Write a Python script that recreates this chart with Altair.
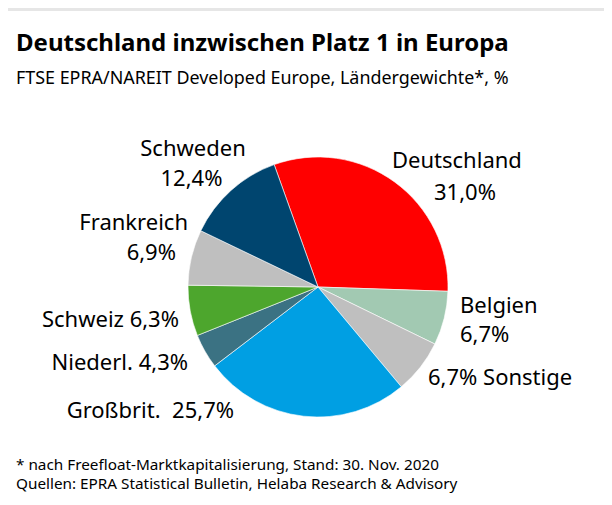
import altair as alt
import pandas as pd

# ---- data ----
categories = ["Deutschland", "Belgien", "Sonstige", "Großbrit.", "Niederl.", "Schweiz", "Frankreich", "Schweden"]
values = [31.0, 6.7, 6.7, 25.7, 4.3, 6.3, 6.9, 12.4]
colors = ["#FF0000", "#A2C9B2", "#BFBFBF", "#009FE3", "#3B7283", "#4DA62D", "#BFBFBF", "#00456F"]

title_text = "Deutschland inzwischen Platz 1 in Europa"
subtitle_text = "FTSE EPRA/NAREIT Developed Europe, Ländergewichte*, %"
footer_lines = ["* nach Freefloat-Marktkapitalisierung, Stand: 30. Nov. 2020",
                "Quellen: EPRA Statistical Bulletin, Helaba Research & Advisory"]


def pct(v):
    return f"{v:.1f}".replace(".", ",") + "%"


pie_df = pd.DataFrame({"cat": categories, "value": values, "idx": list(range(len(categories)))})

# ---- label lines (text from data, layout separate) ----
v = dict(zip(categories, values))
label_text = [
    "Deutschland", pct(v["Deutschland"]),
    "Belgien", pct(v["Belgien"]),
    pct(v["Sonstige"]) + " Sonstige",
    "Großbrit.\u00a0 " + pct(v["Großbrit."]),
    "Niederl. " + pct(v["Niederl."]),
    "Schweiz " + pct(v["Schweiz"]),
    "Frankreich", pct(v["Frankreich"]),
    "Schweden", pct(v["Schweden"]),
]
# layout (pixel positions within the chart)
label_x = [384, 426, 452, 452, 420, 226, 180, 171, 180, 168, 185, 183.5]
label_y = [160, 192, 305, 334, 377, 410, 362, 319, 222, 252, 148, 178]
label_align = ["left", "left", "left", "left", "left", "right", "right", "right", "right", "right", "center", "center"]

lab_df = pd.DataFrame({"t": label_text, "x": label_x, "y": label_y, "a": label_align})

FONT = "Noto Sans"
TOTAL = sum(values)
TWO_PI = 2 * 3.141592653589793
START = TWO_PI - 0.344

pie = alt.Chart(pie_df).mark_arc(outerRadius=130, stroke="white", strokeWidth=0.6).encode(
    theta=alt.Theta("value:Q", stack=True, scale=alt.Scale(domain=[0, TOTAL], range=[START, START + TWO_PI])),
    color=alt.Color("cat:N", scale=alt.Scale(domain=categories, range=colors), legend=None),
    order=alt.Order("idx:Q"),
    x=alt.value(310),
    y=alt.value(279),
)

label_layers = []
for al in ["left", "right", "center"]:
    label_layers.append(
        alt.Chart(lab_df).transform_filter(alt.datum.a == al).mark_text(
            font=FONT, fontSize=22, align=al, baseline="alphabetic", color="#000000"
        ).encode(
            x=alt.X("x:Q", scale=None, axis=None),
            y=alt.Y("y:Q", scale=None, axis=None),
            text="t:N",
        )
    )

txt_df = pd.DataFrame({"t": [title_text, subtitle_text] + footer_lines,
                       "x": [8, 8, 8, 8], "y": [43, 76, 462, 481],
                       "k": ["title", "sub", "foot", "foot"]})

title = alt.Chart(txt_df).transform_filter(alt.datum.k == "title").mark_text(
    font=FONT, fontSize=24, fontWeight="bold", align="left", baseline="alphabetic", color="#000000"
).encode(x=alt.X("x:Q", scale=None, axis=None), y=alt.Y("y:Q", scale=None, axis=None), text="t:N")

sub = alt.Chart(txt_df).transform_filter(alt.datum.k == "sub").mark_text(
    font=FONT, fontSize=17.9, align="left", baseline="alphabetic", color="#000000"
).encode(x=alt.X("x:Q", scale=None, axis=None), y=alt.Y("y:Q", scale=None, axis=None), text="t:N")

foot = alt.Chart(txt_df).transform_filter(alt.datum.k == "foot").mark_text(
    font=FONT, fontSize=15.3, align="left", baseline="alphabetic", color="#000000"
).encode(x=alt.X("x:Q", scale=None, axis=None), y=alt.Y("y:Q", scale=None, axis=None), text="t:N")

band = alt.Chart(pie_df).mark_rule(color="#E6E6E6", strokeWidth=3).encode(
    x=alt.value(0), x2=alt.value(596), y=alt.value(1.5)
)

chart = alt.layer(band, pie, *label_layers, title, sub, foot).properties(
    width=596, height=489, padding=0,
    autosize=alt.AutoSizeParams(type="none"),
    background="white",
).configure_view(stroke=None)

chart.save("out.html", embed_options={"renderer": "svg", "actions": False})
